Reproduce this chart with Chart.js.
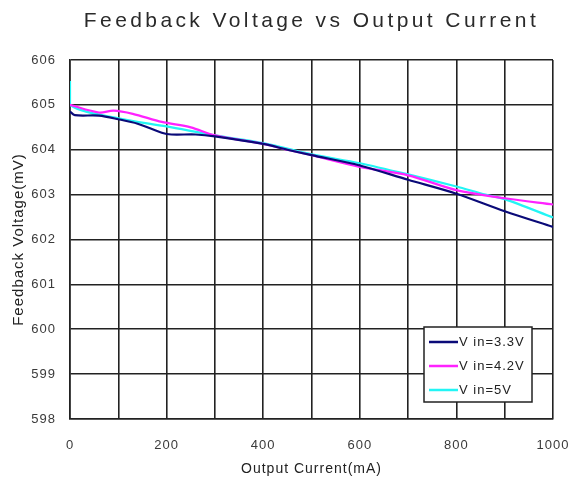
<!DOCTYPE html>
<html>
<head>
<meta charset="utf-8">
<script src="https://cdn.jsdelivr.net/npm/chart.js@4.4.1/dist/chart.umd.min.js"></script>
<style>
  html, body { margin: 0; padding: 0; background: #fff; }
  #wrap { position: relative; width: 569px; height: 481px; }
  #title {
    position: absolute; left: 0; top: 8px; width: 623px;
    text-align: center; font-family: "Liberation Sans", Arial, sans-serif;
    font-size: 21px; letter-spacing: 3.4px; color: #2a2a2a;
  }
  canvas { position: absolute; left: 0; top: 0; }
</style>
</head>
<body>
<div id="wrap">
  <canvas id="chart" width="569" height="481"></canvas>
  <div id="title">Feedback Voltage vs Output Current</div>
</div>
<script>
const seriesLabels = ["V in=3.3V", "V in=4.2V", "V in=5V"];
const seriesColors = ["#0a0a78", "#ff22ff", "#22f5f5"];

// output current (mA) and feedback voltage (mV) for each input voltage
const current33 = [0, 10, 60, 100, 140, 190, 210, 260, 300, 400, 450, 500, 600, 700, 800, 900, 1000];
const voltage33 = [604.85, 604.77, 604.76, 604.68, 604.58, 604.38, 604.34, 604.34, 604.3, 604.13, 604.0, 603.88, 603.65, 603.33, 603.02, 602.63, 602.28];

const current42 = [0, 60, 90, 130, 190, 250, 300, 400, 450, 500, 600, 700, 800, 900, 1000];
const voltage42 = [605.0, 604.83, 604.87, 604.8, 604.62, 604.5, 604.32, 604.13, 604.0, 603.88, 603.62, 603.43, 603.1, 602.92, 602.78];

const current5 = [0, 0, 100, 200, 300, 400, 500, 600, 700, 800, 860, 900, 1000];
const voltage5 = [605.53, 605.0, 604.7, 604.52, 604.32, 604.15, 603.9, 603.7, 603.45, 603.18, 603.0, 602.9, 602.49];

const xTicks = [0, 200, 400, 600, 800, 1000];

function toPoints(xs, ys) {
  return xs.map((x, i) => ({ x: x, y: ys[i] }));
}

// the original text is drawn with a little extra spacing
const spacedText = {
  id: "spacedText",
  beforeUpdate(chart) { chart.ctx.letterSpacing = "1px"; },
  beforeDraw(chart) { chart.ctx.letterSpacing = "1px"; }
};

const boxLegend = {
  id: "boxLegend",
  afterDatasetsDraw(chart) {
    const ctx = chart.ctx;
    const area = chart.chartArea;
    const w = 108, h = 75;
    const left = area.right - 129, top = area.bottom - 92;
    ctx.save();
    ctx.fillStyle = "#fff";
    ctx.fillRect(left, top, w, h);
    ctx.strokeStyle = "#222";
    ctx.lineWidth = 1.5;
    ctx.strokeRect(left, top, w, h);
    ctx.font = "13px 'Liberation Sans', Arial, sans-serif";
    ctx.textBaseline = "middle";
    chart.data.datasets.forEach((ds, i) => {
      const y = top + 15 + i * 24;
      ctx.strokeStyle = ds.borderColor;
      ctx.lineWidth = 2.5;
      ctx.beginPath();
      ctx.moveTo(left + 5, y);
      ctx.lineTo(left + 34, y);
      ctx.stroke();
      ctx.fillStyle = "#222";
      ctx.fillText(ds.label, left + 35, y);
    });
    ctx.restore();
  }
};

const tickFont = { family: "'Liberation Sans', Arial, sans-serif", size: 13 };

new Chart(document.getElementById("chart"), {
  type: "line",
  data: {
    datasets: [
      { label: seriesLabels[0], data: toPoints(current33, voltage33), borderColor: seriesColors[0] },
      { label: seriesLabels[1], data: toPoints(current42, voltage42), borderColor: seriesColors[1] },
      { label: seriesLabels[2], data: toPoints(current5, voltage5), borderColor: seriesColors[2] }
    ].map((ds) => Object.assign(ds, { borderWidth: 2.2, pointRadius: 0, tension: 0.3, fill: false }))
  },
  plugins: [spacedText, boxLegend],
  options: {
    responsive: false,
    animation: false,
    layout: { padding: { left: 0, right: 16, top: 60, bottom: 0 } },
    plugins: {
      legend: { display: false },
      tooltip: { enabled: false }
    },
    scales: {
      x: {
        type: "linear",
        min: 0,
        max: 1000,
        afterFit: (scale) => {
          scale.height = 62;
          scale.paddingLeft = 0;
          scale.paddingRight = 0;
        },
        ticks: {
          stepSize: 100,
          autoSkip: false,
          maxRotation: 0,
          padding: 19,
          color: "#3a3a3a",
          font: tickFont,
          callback: (value) => (xTicks.includes(value) ? String(value) : "")
        },
        grid: { color: "#222", lineWidth: 1.6, drawTicks: false },
        border: { color: "#222", width: 1.6 },
        title: {
          display: true,
          text: "Output Current(mA)",
          color: "#222",
          font: { family: "'Liberation Sans', Arial, sans-serif", size: 14 },
          padding: { top: 4, bottom: 3 }
        }
      },
      y: {
        min: 598,
        max: 606,
        afterFit: (scale) => { scale.width = 70; },
        ticks: {
          stepSize: 1,
          padding: 14,
          color: "#3a3a3a",
          font: tickFont
        },
        grid: { color: "#222", lineWidth: 1.6, drawTicks: false },
        border: { color: "#222", width: 1.6 },
        title: {
          display: true,
          text: "Feedback Voltage(mV)",
          color: "#222",
          font: { family: "'Liberation Sans', Arial, sans-serif", size: 15 },
          padding: { top: 10, bottom: 0 }
        }
      }
    }
  }
});
</script>
</body>
</html>
